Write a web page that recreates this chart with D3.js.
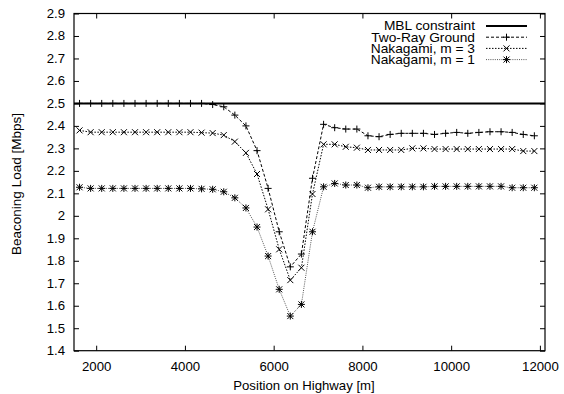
<!DOCTYPE html>
<html><head><meta charset="utf-8">
<script src="https://cdn.jsdelivr.net/npm/d3@7"></script>
<style>
body{margin:0;background:#fff}
svg{display:block}
text{font-family:"Liberation Sans",Arial,Helvetica,sans-serif;fill:#000}
</style>
</head><body>
<svg id="chart" width="564" height="394"></svg>
<script>
// ---- data ----
const positions = [1625,1875,2125,2375,2625,2875,3125,3375,3625,3875,4125,4375,4625,4875,5125,5375,5625,5875,6125,6375,6625,6875,7125,7375,7625,7875,8125,8375,8625,8875,9125,9375,9625,9875,10125,10375,10625,10875,11125,11375,11625,11875];
const twoRay = [2.50,2.50,2.50,2.50,2.50,2.50,2.50,2.50,2.50,2.50,2.50,2.50,2.495,2.485,2.448,2.40,2.29,2.122,1.929,1.773,1.830,2.167,2.407,2.392,2.386,2.386,2.356,2.352,2.362,2.367,2.367,2.367,2.362,2.367,2.371,2.367,2.371,2.374,2.374,2.371,2.362,2.356];
const nakagami3 = [2.38,2.372,2.372,2.372,2.372,2.372,2.372,2.372,2.372,2.372,2.372,2.37,2.368,2.359,2.33,2.28,2.186,2.029,1.851,1.714,1.769,2.097,2.318,2.318,2.307,2.303,2.293,2.293,2.293,2.293,2.30,2.30,2.297,2.297,2.297,2.297,2.297,2.297,2.297,2.297,2.288,2.288];
const nakagami1 = [2.127,2.122,2.122,2.122,2.122,2.122,2.122,2.122,2.122,2.122,2.122,2.12,2.118,2.107,2.08,2.035,1.95,1.821,1.673,1.554,1.606,1.929,2.129,2.144,2.137,2.137,2.125,2.129,2.129,2.129,2.129,2.129,2.131,2.131,2.131,2.131,2.131,2.131,2.131,2.125,2.125,2.125];
const mblConstraint = 2.5;
const seriesNames = ["MBL constraint","Two-Ray Ground","Nakagami, m = 3","Nakagami, m = 1"];
const xTicks = [2000,4000,6000,8000,10000,12000];
const yTicks = [1.4,1.5,1.6,1.7,1.8,1.9,2.0,2.1,2.2,2.3,2.4,2.5,2.6,2.7,2.8,2.9];
const xTitle = "Position on Highway [m]";
const yTitle = "Beaconing Load [Mbps]";

// ---- layout ----
const L = 74, R = 545, T = 13.5, B = 350.7;
const SX = 1.1;
const svg = d3.select("#chart");
const x = d3.scaleLinear().domain([1500, 12115]).range([L, R]);
const y = d3.scaleLinear().domain([1.4, 2.9]).range([B, T]);

// axes (inward ticks, mirrored)
const fmtY = d => (d === 2 ? "2" : d3.format(".1f")(d));
const gB = svg.append("g").attr("transform", `translate(0,${B})`)
  .call(d3.axisBottom(x).tickValues(xTicks).tickSizeInner(-5).tickSizeOuter(0).tickPadding(12).tickFormat(d => d));
const gL = svg.append("g").attr("transform", `translate(${L},0)`)
  .call(d3.axisLeft(y).tickValues(yTicks).tickSizeInner(-5).tickSizeOuter(0).tickPadding(9).tickFormat(fmtY));
svg.append("g").attr("transform", `translate(0,${T})`)
  .call(d3.axisTop(x).tickValues(xTicks).tickSizeInner(-5).tickSizeOuter(0).tickFormat(""));
svg.append("g").attr("transform", `translate(${R},0)`)
  .call(d3.axisRight(y).tickValues(yTicks).tickSizeInner(-5).tickSizeOuter(0).tickFormat(""));
svg.selectAll(".domain").remove();
svg.selectAll(".tick line").attr("stroke", "#000").attr("stroke-width", 1);
gB.selectAll("text").attr("font-size", 12).attr("font-family", null).attr("fill", "#000")
  .attr("transform", `scale(${SX},1)`);
gL.selectAll("text").attr("font-size", 12).attr("font-family", null).attr("fill", "#000")
  .attr("x", -9 / SX).attr("transform", `scale(${SX},1)`);
gB.attr("font-family", null);
gL.attr("font-family", null);

// clip
svg.append("clipPath").attr("id", "clip").append("rect")
  .attr("x", L).attr("y", T).attr("width", R - L).attr("height", B - T);
const plot = svg.append("g").attr("clip-path", "url(#clip)");

// MBL constraint
plot.append("line")
  .attr("x1", x(x.domain()[0])).attr("x2", x(x.domain()[1]))
  .attr("y1", y(mblConstraint)).attr("y2", y(mblConstraint))
  .attr("stroke", "#000").attr("stroke-width", 2);

// marker paths
const plusPath = (a) => `M${-a},0H${a}M0,${-a}V${a}`;
const xPath = (a) => `M${-a},${-a}L${a},${a}M${-a},${a}L${a},${-a}`;
const markers = {
  plus: plusPath(3.5),
  cross: xPath(3),
  star: plusPath(3.5) + xPath(3)
};

const series = [
  {name: seriesNames[1], values: twoRay, dash: "3,2", color: "#000", marker: "plus"},
  {name: seriesNames[2], values: nakagami3, dash: "1.5,1.5", color: "#000", marker: "cross"},
  {name: seriesNames[3], values: nakagami1, dash: "1,1.2", color: "#555", marker: "star"}
];

const line = d3.line().x(d => x(d[0])).y(d => y(d[1]));
series.forEach(s => {
  const pts = positions.map((p, i) => [p, s.values[i]]);
  plot.append("path").datum(pts).attr("d", line)
    .attr("fill", "none").attr("stroke", s.color).attr("stroke-width", 1)
    .attr("stroke-dasharray", s.dash);
  plot.selectAll(null).data(pts).enter().append("path")
    .attr("transform", d => `translate(${x(d[0])},${y(d[1])})`)
    .attr("d", markers[s.marker])
    .attr("fill", "none").attr("stroke", "#000").attr("stroke-width", 1);
});

// frame
svg.append("rect").attr("x", L).attr("y", T).attr("width", R - L).attr("height", B - T)
  .attr("fill", "none").attr("stroke", "#000").attr("stroke-width", 1.2);

// legend
const legRows = [26, 37.2, 48.4, 59.6];
const textEnd = 475, sampleX1 = 486, sampleX2 = 527;
const legendItems = [
  {name: seriesNames[0], dash: null, color: "#000", width: 2, marker: null},
  ...series.map(s => ({name: s.name, dash: s.dash, color: s.color, width: 1, marker: s.marker}))
];
legendItems.forEach((it, i) => {
  const ry = legRows[i];
  svg.append("text").attr("transform", `translate(${textEnd},${ry + 4.4}) scale(${SX},1)`)
    .attr("text-anchor", "end").attr("font-size", 12.5).text(it.name);
  svg.append("line").attr("x1", sampleX1).attr("x2", sampleX2).attr("y1", ry).attr("y2", ry)
    .attr("stroke", it.color).attr("stroke-width", it.width)
    .attr("stroke-dasharray", it.dash);
  if (it.marker) {
    svg.append("path").attr("transform", `translate(${(sampleX1 + sampleX2) / 2},${ry})`)
      .attr("d", markers[it.marker]).attr("fill", "none").attr("stroke", "#000").attr("stroke-width", 1);
  }
});

// axis titles
svg.append("text").attr("transform", `translate(304,389.5) scale(${SX},1)`)
  .attr("text-anchor", "middle").attr("font-size", 12).text(xTitle);
svg.append("text").attr("transform", `translate(21,184) rotate(-90)`)
  .attr("text-anchor", "middle").attr("font-size", 13.5).text(yTitle);
</script>
</body></html>
